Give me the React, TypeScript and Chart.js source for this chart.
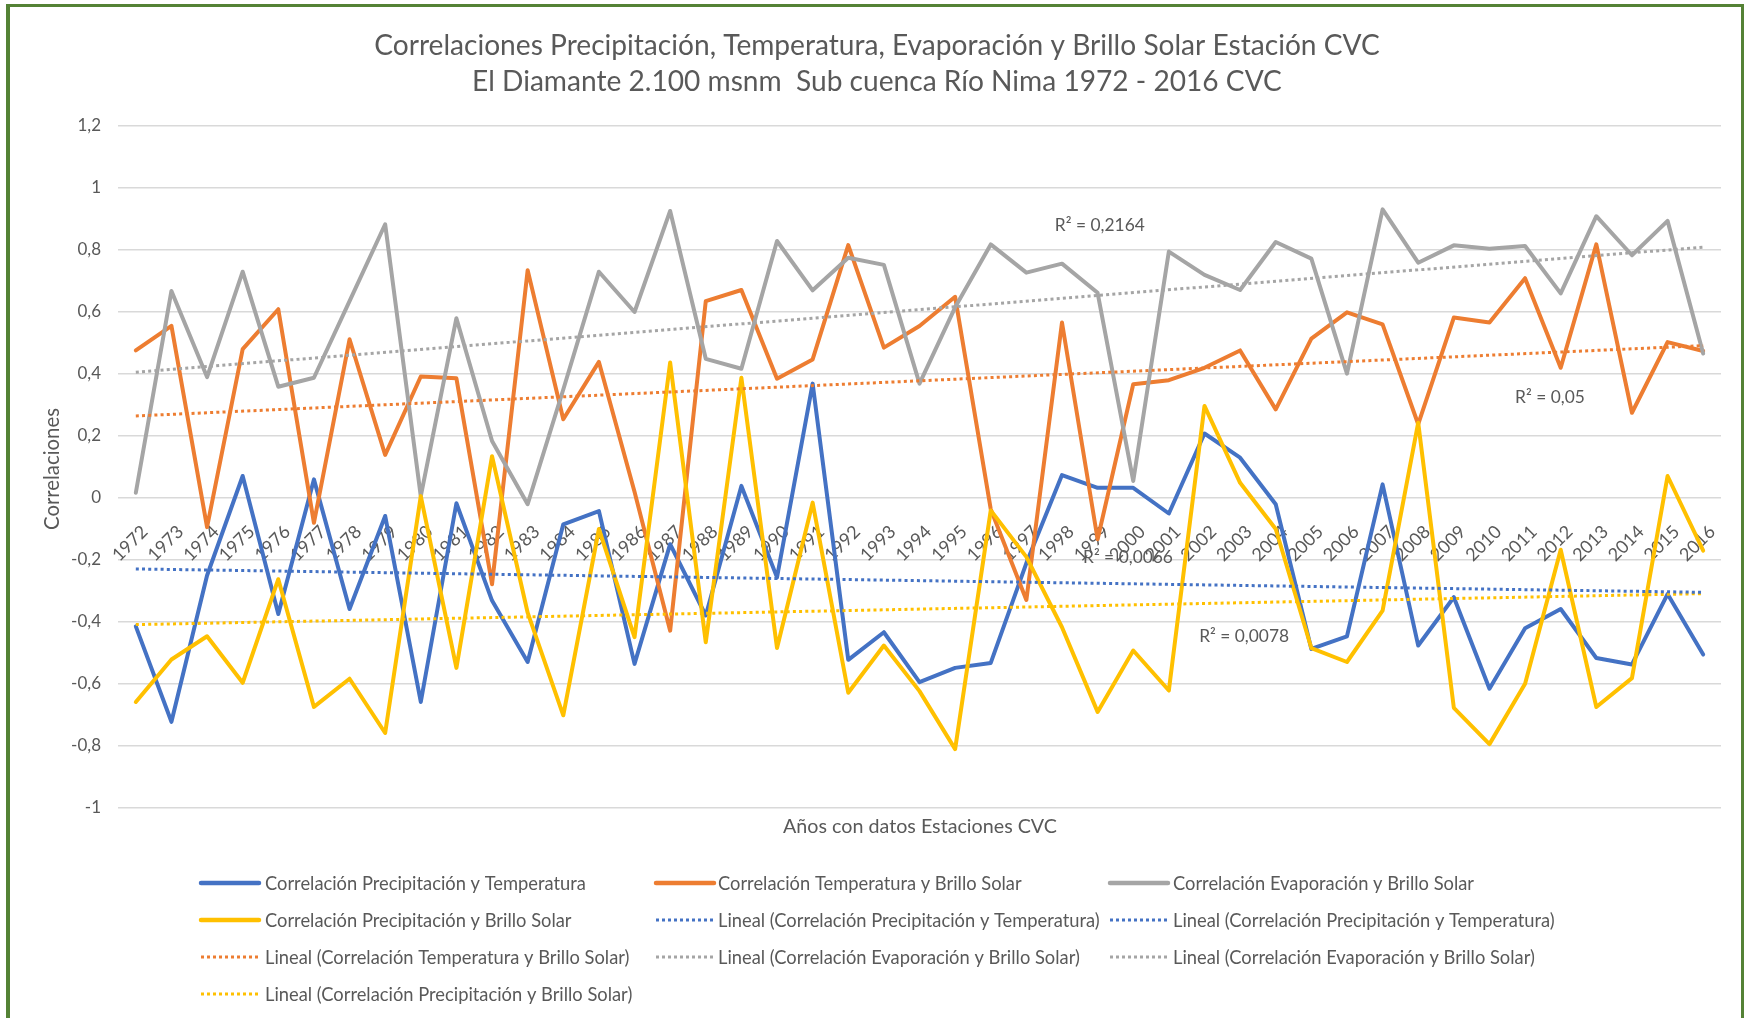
import React, { useEffect, useRef } from 'react';
import { Chart, registerables } from 'chart.js';

Chart.register(...registerables);

const years = [
  '1972', '1973', '1974', '1975', '1976', '1977', '1978', '1979', '1980', '1981',
  '1982', '1983', '1984', '1985', '1986', '1987', '1988', '1989', '1990', '1991',
  '1992', '1993', '1994', '1995', '1996', '1997', '1998', '1999', '2000', '2001',
  '2002', '2003', '2004', '2005', '2006', '2007', '2008', '2009', '2010', '2011',
  '2012', '2013', '2014', '2015', '2016',
];

// Correlación Precipitación y Temperatura (blue)
const precipTemp = [
  -0.414, -0.722, -0.25, 0.071, -0.374, 0.06, -0.358, -0.058, -0.658, -0.017,
  -0.331, -0.529, -0.085, -0.042, -0.535, -0.149, -0.379, 0.039, -0.256, 0.369,
  -0.522, -0.433, -0.594, -0.548, -0.532, -0.21, 0.074, 0.033, 0.033, -0.05,
  0.208, 0.13, -0.02, -0.487, -0.446, 0.044, -0.476, -0.32, -0.615, -0.42,
  -0.358, -0.516, -0.537, -0.31, -0.505,
];

// Correlación Temperatura y Brillo Solar (orange)
const tempSolar = [
  0.476, 0.555, -0.094, 0.48, 0.609, -0.08, 0.512, 0.139, 0.392, 0.386,
  -0.278, 0.735, 0.254, 0.439, 0.02, -0.428, 0.635, 0.671, 0.385, 0.447,
  0.816, 0.485, 0.555, 0.649, -0.036, -0.329, 0.566, -0.133, 0.367, 0.38,
  0.42, 0.476, 0.286, 0.514, 0.599, 0.56, 0.238, 0.582, 0.566, 0.709,
  0.42, 0.818, 0.275, 0.503, 0.474,
];

// Correlación Evaporación y Brillo Solar (grey)
const evapSolar = [
  0.017, 0.668, 0.39, 0.73, 0.359, 0.388, 0.635, 0.883, 0.006, 0.58,
  0.184, -0.02, 0.35, 0.73, 0.6, 0.926, 0.449, 0.417, 0.829, 0.67,
  0.775, 0.752, 0.369, 0.615, 0.818, 0.727, 0.756, 0.662, 0.055, 0.795,
  0.72, 0.671, 0.826, 0.772, 0.401, 0.931, 0.759, 0.815, 0.804, 0.813,
  0.66, 0.909, 0.783, 0.894, 0.466,
];

// Correlación Precipitación y Brillo Solar (yellow)
const precipSolar = [
  -0.658, -0.521, -0.446, -0.596, -0.262, -0.674, -0.583, -0.758, 0.006, -0.548,
  0.135, -0.37, -0.701, -0.1, -0.449, 0.437, -0.465, 0.388, -0.484, -0.015,
  -0.628, -0.476, -0.623, -0.81, -0.04, -0.19, -0.417, -0.69, -0.492, -0.621,
  0.297, 0.049, -0.1, -0.484, -0.529, -0.363, 0.243, -0.677, -0.794, -0.599,
  -0.167, -0.674, -0.581, 0.071, -0.17,
];

const seriesNames = [
  'Correlación Precipitación y Temperatura',
  'Correlación Temperatura y Brillo Solar',
  'Correlación Evaporación y Brillo Solar',
  'Correlación Precipitación y Brillo Solar',
];

const seriesColors = ['#4472C4', '#ED7D31', '#A5A5A5', '#FFC000'];

const titleLines = [
  'Correlaciones Precipitación, Temperatura, Evaporación y Brillo Solar Estación CVC',
  'El Diamante 2.100 msnm  Sub cuenca Río Nima 1972 - 2016 CVC',
];

const yAxisTitle = 'Correlaciones';
const xAxisTitle = 'Años con datos Estaciones CVC';

const r2Texts = ['R² = 0,2164', 'R² = 0,05', 'R² = 0,0066', 'R² = 0,0078'];

// legend entries (label, series index, dotted)
const legendEntries: [string, number, boolean][] = [
  ['Correlación Precipitación y Temperatura', 0, false],
  ['Correlación Temperatura y Brillo Solar', 1, false],
  ['Correlación Evaporación y Brillo Solar', 2, false],
  ['Correlación Precipitación y Brillo Solar', 3, false],
  ['Lineal (Correlación Precipitación y Temperatura)', 0, true],
  ['Lineal (Correlación Precipitación y Temperatura)', 0, true],
  ['Lineal (Correlación Temperatura y Brillo Solar)', 1, true],
  ['Lineal (Correlación Evaporación y Brillo Solar)', 2, true],
  ['Lineal (Correlación Evaporación y Brillo Solar)', 2, true],
  ['Lineal (Correlación Precipitación y Brillo Solar)', 3, true],
];

const FONT = 'Lato';
const TEXT = '#595959';

function linearTrend(ys: number[]) {
  const n = ys.length;
  let sx = 0, sy = 0, sxx = 0, sxy = 0;
  for (let i = 0; i < n; i++) {
    sx += i; sy += ys[i]; sxx += i * i; sxy += i * ys[i];
  }
  const b = (n * sxy - sx * sy) / (n * sxx - sx * sx);
  const a = (sy - b * sx) / n;
  return [
    { x: years[0], y: a },
    { x: years[n - 1], y: a + b * (n - 1) },
  ];
}

function fitSize(ctx: CanvasRenderingContext2D, text: string, target: number) {
  ctx.font = `100px ${FONT}`;
  const w = ctx.measureText(text).width;
  return (100 * target) / w;
}

const decor = {
  id: 'decor',
  afterDraw(chart: any) {
    const ctx: CanvasRenderingContext2D = chart.ctx;
    const xs = chart.scales.x;
    const ys = chart.scales.y;
    ctx.save();

    // chart frame (green)
    ctx.fillStyle = '#548235';
    ctx.fillRect(6, 4, 1738, 3);
    ctx.fillRect(6, 4, 4, 1020);
    ctx.fillRect(1741, 4, 3, 1020);

    ctx.fillStyle = TEXT;

    // titles
    const ts = fitSize(ctx, titleLines[0], 1006);
    ctx.font = `${ts}px ${FONT}`;
    ctx.textAlign = 'center';
    ctx.textBaseline = 'alphabetic';
    ctx.fillText(titleLines[0], 877, 55);
    ctx.fillText(titleLines[1], 877, 91);

    // axis titles
    const ys2 = fitSize(ctx, yAxisTitle, 122);
    ctx.font = `${ys2}px ${FONT}`;
    ctx.save();
    ctx.translate(59, 469);
    ctx.rotate(-Math.PI / 2);
    ctx.fillText(yAxisTitle, 0, 0);
    ctx.restore();

    const xs2 = fitSize(ctx, xAxisTitle, 274);
    ctx.font = `${xs2}px ${FONT}`;
    ctx.fillText(xAxisTitle, 920, 833);

    // R² labels anchored on the scales
    const rs = fitSize(ctx, r2Texts[0], 90);
    ctx.font = `${rs}px ${FONT}`;
    ctx.textAlign = 'left';
    const anchors: [number, number][] = [
      [25.8, 0.86],
      [38.72, 0.305],
      [26.59, -0.21],
      [29.85, -0.465],
    ];
    r2Texts.forEach((t, i) => {
      const px = xs.getPixelForValue(anchors[i][0]);
      const py = ys.getPixelForValue(anchors[i][1]);
      ctx.fillText(t, px, py);
    });

    // legend
    const ls = fitSize(ctx, legendEntries[0][0], 321);
    ctx.font = `${ls}px ${FONT}`;
    ctx.textBaseline = 'middle';
    const colSample = [201, 656, 1110];
    const colText = [265, 718, 1173];
    const rowY = [883, 920, 957, 994];
    legendEntries.forEach(([label, si, dotted], i) => {
      const c = i % 3;
      const r = Math.floor(i / 3);
      const y = rowY[r];
      ctx.save();
      ctx.strokeStyle = seriesColors[si];
      if (dotted) {
        ctx.lineWidth = 3;
        ctx.setLineDash([3, 3]);
        ctx.lineCap = 'butt';
      } else {
        ctx.lineWidth = 4.5;
        ctx.lineCap = 'round';
      }
      ctx.beginPath();
      ctx.moveTo(colSample[c], y);
      ctx.lineTo(colSample[c] + 58, y);
      ctx.stroke();
      ctx.restore();
      ctx.fillStyle = TEXT;
      ctx.fillText(label, colText[c], y + 1);
    });

    ctx.restore();
  },
};

export default function App() {
  const ref = useRef<HTMLCanvasElement | null>(null);

  useEffect(() => {
    if (!ref.current) return;
    Chart.defaults.font.family = FONT;
    const series = [precipTemp, tempSolar, evapSolar, precipSolar];
    const mainSets = series.map((d, i) => ({
      label: seriesNames[i],
      data: d,
      borderColor: seriesColors[i],
      backgroundColor: seriesColors[i],
      borderWidth: 4,
      pointRadius: 0,
      tension: 0,
      borderJoinStyle: 'round' as const,
      borderCapStyle: 'round' as const,
      order: 4 - i,
    }));
    const trendSets = series.map((d, i) => ({
      label: 'Lineal (' + seriesNames[i] + ')',
      data: linearTrend(d),
      borderColor: seriesColors[i],
      borderWidth: 3,
      borderDash: [3, 3.2],
      pointRadius: 0,
      tension: 0,
      order: 0,
    }));

    const chart = new Chart(ref.current, {
      type: 'line',
      data: { labels: years, datasets: [...mainSets, ...trendSets] as any },
      options: {
        responsive: false,
        animation: false,
        layout: { padding: { top: 126, right: 24, bottom: 210, left: 0 } },
        plugins: {
          legend: { display: false },
          title: { display: false },
          tooltip: { enabled: false },
        },
        scales: {
          x: {
            type: 'category',
            offset: true,
            position: { y: 0 } as any,
            grid: { display: false, drawTicks: false },
            border: { display: false },
            ticks: {
              autoSkip: false,
              maxRotation: 45,
              minRotation: 45,
              color: TEXT,
              font: { size: 18, family: FONT },
              padding: 23,
              labelOffset: 9,
            },
          },
          y: {
            min: -1,
            max: 1.2,
            grid: { color: '#D9D9D9', lineWidth: 1.5, drawTicks: false },
            border: { display: false },
            ticks: {
              stepSize: 0.2,
              color: TEXT,
              font: { size: 17, family: FONT },
              padding: 17,
              callback: (v: any) => String(Number(Number(v).toFixed(1))).replace('.', ','),
            },
            afterFit: (s: any) => {
              s.width = 118;
            },
          },
        },
      },
      plugins: [decor],
    });
    return () => chart.destroy();
  }, []);

  return (
    <div style={{ position: 'absolute', left: 0, top: 0, width: 1745, height: 1018, background: '#fff' }}>
      <canvas ref={ref} width={1745} height={1018} style={{ display: 'block' }} />
    </div>
  );
}
